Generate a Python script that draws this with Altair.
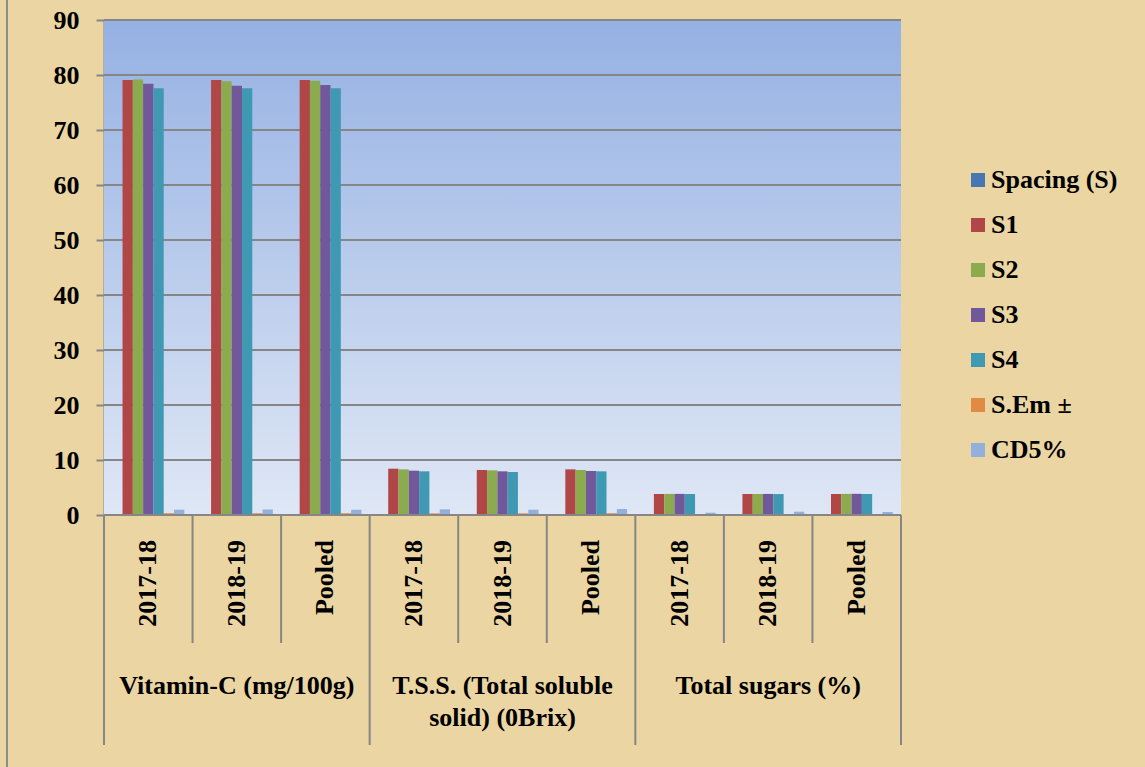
import altair as alt
import pandas as pd

# ---- data -----------------------------------------------------------------
groups = ["Vitamin-C (mg/100g)", "T.S.S. (Total soluble\nsolid) (0Brix)", "Total sugars (%)"]
years = ["2017-18", "2018-19", "Pooled"]
series = ["Spacing (S)", "S1", "S2", "S3", "S4", "S.Em ±", "CD5%"]
colors = ["#4677B3", "#B04746", "#8CAA4E", "#71589A", "#4099B3", "#E08A43", "#93B0DA"]

# one value per group/year cell, groups in order, years inside each group
s1 = [79.10, 79.10, 79.10, 8.42, 8.18, 8.30, 3.82, 3.82, 3.82]
s2 = [79.20, 78.85, 78.96, 8.30, 8.12, 8.18, 3.83, 3.82, 3.84]
s3 = [78.40, 78.05, 78.20, 8.06, 7.94, 8.00, 3.84, 3.83, 3.85]
s4 = [77.60, 77.60, 77.60, 7.94, 7.82, 7.94, 3.82, 3.81, 3.82]
sem = [0.32, 0.32, 0.32, 0.30, 0.30, 0.30, 0.15, 0.16, 0.15]
cd5 = [0.96, 1.00, 0.96, 1.03, 0.96, 1.09, 0.42, 0.60, 0.55]
y_ticks = [0, 10, 20, 30, 40, 50, 60, 70, 80, 90]

# ---- layout -----------------------------------------------------------------
W, H = 797, 495
SERIF = "Liberation Serif"
GRID = "#868686"

cells = [(gi, y) for gi in range(len(groups)) for y in years]
cat_keys = [f"{gi}|{y}" for gi, y in cells]

rows = []
for name, vals in zip(series[1:], [s1, s2, s3, s4, sem, cd5]):
    for key, v in zip(cat_keys, vals):
        rows.append({"cat": key, "series": name, "value": v})
bars_df = pd.DataFrame(rows)

x_scale = alt.Scale(domain=cat_keys, paddingInner=0, paddingOuter=0)
y_scale = alt.Scale(domain=[0, 90], nice=False, zero=True)

# plot background with the vertical blue gradient
bg = alt.Chart(pd.DataFrame({"a": [0]})).mark_rect(
    color=alt.Gradient(
        gradient="linear",
        stops=[alt.GradientStop(color="#95B1E3", offset=0),
               alt.GradientStop(color="#DFE7F5", offset=1)],
        x1=0, x2=0, y1=0, y2=1,
    )
).encode(x=alt.value(0), x2=alt.value(W), y=alt.value(0), y2=alt.value(H))

# horizontal gridlines and the value axis
grid = alt.Chart(pd.DataFrame({"v": y_ticks})).mark_rule(
    color=GRID, strokeWidth=2
).encode(
    y=alt.Y("v:Q", scale=y_scale, axis=alt.Axis(
        values=y_ticks, title=None, grid=False,
        domainColor=GRID, domainWidth=2, tickColor=GRID, tickWidth=2, tickSize=8,
        labelPadding=17, labelFont=SERIF, labelFontWeight="bold", labelFontSize=26,
        labelColor="black")),
    x=alt.value(0), x2=alt.value(W),
)

bars = alt.Chart(bars_df).mark_bar(stroke=None).encode(
    x=alt.X("cat:N", scale=x_scale, axis=None, sort=cat_keys),
    xOffset=alt.XOffset("series:N", scale=alt.Scale(domain=series, paddingInner=0, paddingOuter=0.8)),
    y=alt.Y("value:Q", scale=y_scale),
    color=alt.Color("series:N", scale=alt.Scale(domain=series, range=colors), legend=alt.Legend(
        title=None, orient="none", legendX=861, legendY=147, padding=0,
        symbolType="square", symbolSize=196, symbolStrokeWidth=0,
        labelFont=SERIF, labelFontWeight="bold", labelFontSize=26, labelColor="black",
        labelOffset=0, rowPadding=19)),
)

# category axis: baseline, dividers and labels
baseline = alt.Chart(pd.DataFrame({"v": [0]})).mark_rule(color=GRID, strokeWidth=2).encode(
    y=alt.Y("v:Q", scale=y_scale), x=alt.value(0), x2=alt.value(W)
)

inner_keys = [k for i, k in enumerate(cat_keys) if i % 3 != 0]
outer_keys = [k for i, k in enumerate(cat_keys) if i % 3 == 0]

inner_div = alt.Chart(pd.DataFrame({"cat": inner_keys})).mark_rule(color=GRID, strokeWidth=2).encode(
    x=alt.X("cat:N", scale=x_scale, bandPosition=0), y=alt.value(H), y2=alt.value(H + 128)
)
outer_div = alt.Chart(pd.DataFrame({"cat": outer_keys})).mark_rule(color=GRID, strokeWidth=2).encode(
    x=alt.X("cat:N", scale=x_scale, bandPosition=0), y=alt.value(H), y2=alt.value(H + 230)
)
end_div = alt.Chart(pd.DataFrame({"cat": [cat_keys[-1]]})).mark_rule(color=GRID, strokeWidth=2).encode(
    x=alt.X("cat:N", scale=x_scale, bandPosition=1), y=alt.value(H), y2=alt.value(H + 230)
)

year_df = pd.DataFrame({"cat": cat_keys, "label": [y for _, y in cells]})
year_text = alt.Chart(year_df).mark_text(
    angle=270, align="right", baseline="middle", font=SERIF, fontWeight="bold",
    fontSize=26, color="black"
).encode(x=alt.X("cat:N", scale=x_scale), y=alt.value(H + 25), text="label:N")

group_df = pd.DataFrame({"cat": [cat_keys[gi * 3 + 1] for gi in range(len(groups))], "label": groups})
group_text = alt.Chart(group_df).mark_text(
    align="center", baseline="alphabetic", font=SERIF, fontWeight="bold", fontSize=26,
    color="black", lineBreak="\n", lineHeight=32
).encode(x=alt.X("cat:N", scale=x_scale), y=alt.value(H + 179), text="label:N")

# outer frame edge on the left
frame = alt.Chart(pd.DataFrame({"a": [0]})).mark_rule(color="#8C8C8C", strokeWidth=2).encode(
    x=alt.value(-97), y=alt.value(-20), y2=alt.value(H + 252)
)

chart = alt.layer(
    bg, grid, bars, baseline, inner_div, outer_div, end_div, year_text, group_text, frame
).properties(
    width=W, height=H,
    padding={"left": 104, "top": 20, "right": 244, "bottom": 252},
    autosize=alt.AutoSizeParams(type="none"),
    background="#EBD5A3",
).configure_view(stroke=None)

chart.save("out.html", embed_options={"renderer": "svg", "actions": False})
